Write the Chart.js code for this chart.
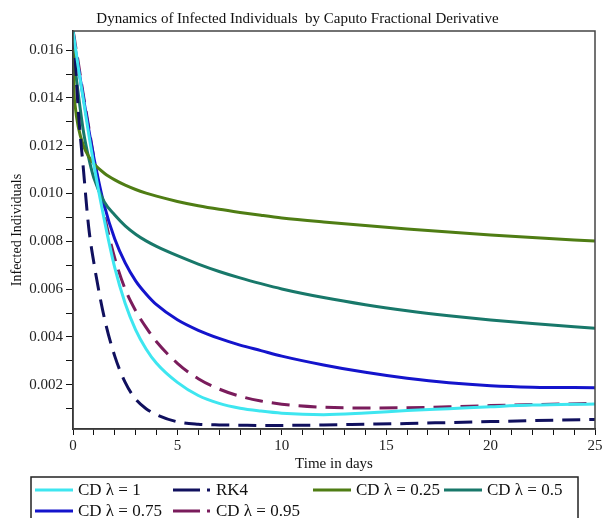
<!DOCTYPE html>
<html>
<head>
<meta charset="utf-8">
<script src="https://cdn.jsdelivr.net/npm/chart.js"></script>
<style>
  html, body { margin: 0; padding: 0; background: #fff; }
  #wrap { width: 610px; height: 518px; }
</style>
</head>
<body>
<div id="wrap"><canvas id="infected" width="610" height="518"></canvas></div>
<script>
// time axis (days) shared by every curve
const days = [0, 0.05, 0.1, 0.25, 0.5, 0.75, 1, 1.5, 2, 2.5, 3, 3.5, 4, 5, 6, 7, 8, 9, 10, 12, 14, 16, 18, 20, 22, 25];

const cd100 = [0.0168, 0.0165, 0.0162, 0.0153, 0.0139, 0.0125, 0.0112, 0.0089, 0.0069, 0.0054, 0.0043, 0.0035, 0.0029, 0.0021, 0.00155, 0.00122, 0.00102, 0.0009, 0.00081, 0.00075, 0.00082, 0.00092, 0.001, 0.00108, 0.00115, 0.0012];
const rk4 = [0.0168, 0.0163, 0.0157, 0.0135, 0.0110, 0.0086, 0.0071, 0.0048, 0.0032, 0.0021, 0.0014, 0.0010, 0.00075, 0.00045, 0.00035, 0.00032, 0.00031, 0.0003, 0.0003, 0.00032, 0.00035, 0.00038, 0.00042, 0.00046, 0.0005, 0.00055];
const cd025 = [0.0168, 0.0143, 0.0137, 0.0128, 0.0120, 0.01155, 0.01125, 0.01085, 0.01057, 0.01035, 0.01017, 0.01002, 0.00989, 0.00967, 0.00949, 0.00934, 0.00921, 0.00909, 0.00898, 0.00881, 0.00866, 0.00852, 0.00839, 0.00827, 0.00816, 0.00801];
const cd050 = [0.0168, 0.0158, 0.0153, 0.0142, 0.0126, 0.0115, 0.01065, 0.00965, 0.0091, 0.00865, 0.0083, 0.00802, 0.00779, 0.0074, 0.00705, 0.00674, 0.00647, 0.00623, 0.00601, 0.00565, 0.00535, 0.0051, 0.00489, 0.00471, 0.00456, 0.00436];
const cd075 = [0.0168, 0.0164, 0.0161, 0.0153, 0.0140, 0.0127, 0.0115, 0.0095, 0.0081, 0.0071, 0.00635, 0.0058, 0.00535, 0.00472, 0.00428, 0.00394, 0.00366, 0.00343, 0.0032, 0.00283, 0.00252, 0.00227, 0.00208, 0.00196, 0.0019, 0.00188];
const cd095 = [0.0168, 0.0166, 0.0163, 0.0155, 0.0141, 0.0128, 0.0115, 0.0091, 0.0073, 0.0060, 0.0051, 0.0044, 0.0038, 0.0029, 0.00225, 0.00182, 0.00152, 0.00132, 0.00119, 0.00106, 0.00103, 0.00104, 0.00108, 0.00113, 0.00117, 0.00122];

const seriesLabels = ["CD λ = 1", "RK4", "CD λ = 0.25", "CD λ = 0.5", "CD λ = 0.75", "CD λ = 0.95"];

const toPoints = (vals) => days.map((d, i) => ({ x: d, y: vals[i] }));

function line(label, vals, color, dashed) {
  return {
    label: label,
    data: toPoints(vals),
    borderColor: color,
    backgroundColor: color,
    borderWidth: 3,
    borderDash: dashed ? [18, 9] : [],
    pointRadius: 0,
    cubicInterpolationMode: "monotone",
    fill: false,
  };
}

const serif = "'Liberation Serif', 'Times New Roman', serif";

// box round the plot area
const frame = {
  id: "frame",
  afterDatasetsDraw(chart) {
    const { ctx, chartArea: a } = chart;
    ctx.save();
    ctx.strokeStyle = "#444";
    ctx.lineWidth = 1.5;
    ctx.strokeRect(a.left, a.top, a.right - a.left, a.bottom - a.top);
    ctx.restore();
  },
};

// legend laid out as a grid, like the original
const gridLegend = {
  id: "gridLegend",
  afterDraw(chart) {
    const ctx = chart.ctx;
    const cols = [35, 173, 313, 444];
    const rows = [490, 511];
    ctx.save();
    ctx.strokeStyle = "#222";
    ctx.lineWidth = 1.5;
    ctx.strokeRect(31, 477, 547, 60);
    ctx.font = "17px " + serif;
    ctx.textBaseline = "middle";
    ctx.fillStyle = "#111";
    chart.data.datasets.forEach((ds, i) => {
      const x = cols[i % 4];
      const y = rows[Math.floor(i / 4)];
      ctx.beginPath();
      ctx.strokeStyle = ds.borderColor;
      ctx.lineWidth = 3;
      ctx.setLineDash(ds.borderDash.length ? [27, 7, 3, 100] : []);
      ctx.moveTo(x, y);
      ctx.lineTo(x + 38, y);
      ctx.stroke();
      ctx.setLineDash([]);
      ctx.fillText(ds.label, x + 43, y + 1);
    });
    ctx.restore();
  },
};

const infectedChart = new Chart(document.getElementById("infected"), {
  type: "line",
  data: {
    datasets: [
      line(seriesLabels[0], cd100, "#3ee6f0", false),
      line(seriesLabels[1], rk4, "#10105e", true),
      line(seriesLabels[2], cd025, "#4f7d14", false),
      line(seriesLabels[3], cd050, "#18786a", false),
      line(seriesLabels[4], cd075, "#1414cc", false),
      line(seriesLabels[5], cd095, "#7a1c5c", true),
    ],
  },
  options: {
    responsive: false,
    animation: false,
    layout: { padding: { left: 0, right: 15, top: 0, bottom: 46 } },
    plugins: {
      legend: { display: false },
      tooltip: { enabled: false },
      title: {
        display: true,
        text: "Dynamics of Infected Individuals  by Caputo Fractional Derivative",
        color: "#111",
        font: { family: serif, size: 15, weight: "normal" },
        padding: { top: 10, bottom: 3 },
      },
    },
    scales: {
      x: {
        type: "linear",
        min: 0,
        max: 25,
        border: { color: "#111", width: 1.5 },
        grid: { drawOnChartArea: false, tickLength: 6, color: "#111" },
        ticks: {
          stepSize: 1,
          autoSkip: false,
          maxRotation: 0,
          padding: 2,
          color: "#222",
          font: { family: serif, size: 15 },
          callback: (v) => (v % 5 === 0 ? String(v) : ""),
        },
        title: {
          display: true,
          text: "Time in days",
          color: "#111",
          font: { family: serif, size: 15, lineHeight: 1 },
          padding: { top: 0, bottom: 0 },
        },
      },
      y: {
        type: "linear",
        min: 0.00015,
        max: 0.0168,
        afterFit: (scale) => { scale.width = 73; },
        border: { color: "#111", width: 1.5 },
        grid: { drawOnChartArea: false, tickLength: 7, color: "#111" },
        ticks: {
          stepSize: 0.001,
          includeBounds: false,
          autoSkip: false,
          padding: 3,
          color: "#222",
          font: { family: serif, size: 15 },
          callback: (v) => {
            const k = v / 0.002;
            return Math.abs(k - Math.round(k)) < 1e-6 ? v.toFixed(3) : "";
          },
        },
        title: {
          display: true,
          text: "Infected Individuals",
          color: "#111",
          font: { family: serif, size: 14 },
          padding: { top: 9, bottom: 3 },
        },
      },
    },
  },
  plugins: [frame, gridLegend],
});
</script>
</body>
</html>
